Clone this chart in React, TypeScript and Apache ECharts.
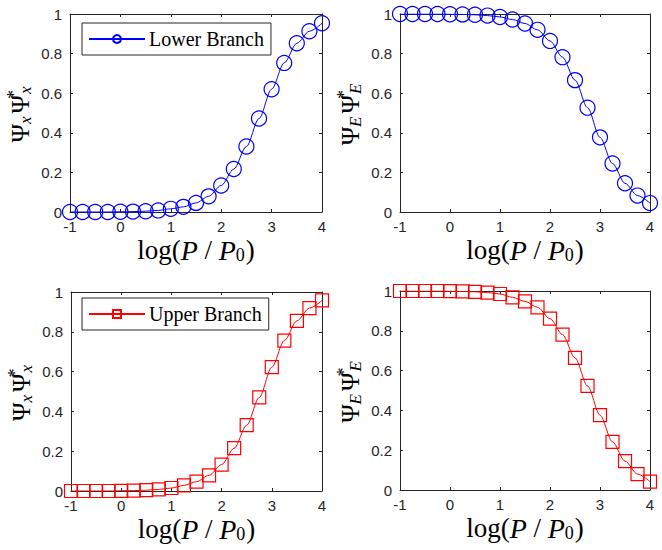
import React, { useEffect, useRef } from "react";
import * as echarts from "echarts";

const xVals = [-1, -0.75, -0.5, -0.25, 0, 0.25, 0.5, 0.75, 1, 1.25, 1.5, 1.75, 2, 2.25, 2.5, 2.75, 3, 3.25, 3.5, 3.75, 4];
const lowerPsiX = [0, 0, 0, 0, 0.001, 0.002, 0.004, 0.008, 0.016, 0.026, 0.046, 0.079, 0.134, 0.217, 0.331, 0.472, 0.62, 0.753, 0.852, 0.913, 0.953];
const lowerPsiE = [1, 1, 1, 1, 0.999, 0.998, 0.996, 0.992, 0.985, 0.972, 0.952, 0.92, 0.864, 0.782, 0.666, 0.527, 0.377, 0.245, 0.145, 0.083, 0.045];
const upperPsiX = [0, 0, 0, 0, 0.001, 0.002, 0.004, 0.008, 0.015, 0.028, 0.047, 0.079, 0.133, 0.215, 0.331, 0.47, 0.622, 0.756, 0.855, 0.919, 0.958];
const upperPsiE = [1, 1, 1, 1, 0.999, 0.998, 0.996, 0.992, 0.985, 0.968, 0.948, 0.918, 0.861, 0.781, 0.664, 0.523, 0.376, 0.242, 0.145, 0.08, 0.042];
const xTicks = [-1, 0, 1, 2, 3, 4];
const yTicks = [0, 0.2, 0.4, 0.6, 0.8, 1];
const legendLower = ["Lower Branch"];
const legendUpper = ["Upper Branch"];

const AXIS_COLOR = "#262626";

export default function App() {
  const ref = useRef<HTMLDivElement>(null);

  useEffect(() => {
    if (!ref.current) return;
    const chart = echarts.init(ref.current, null, { renderer: "svg" });

    const grids = [
      { left: 70, top: 14, width: 252, height: 198 },
      { left: 400, top: 14, width: 250, height: 198 },
      { left: 71, top: 292, width: 251, height: 199 },
      { left: 400, top: 291, width: 250, height: 199 },
    ];

    const xName = "{n|log(}{i|P}{n| / }{i|P}{sub|0}{n|)}";
    const xNameRich = {
      n: { fontFamily: "Liberation Serif", fontSize: 27, color: "#000" },
      i: { fontFamily: "Liberation Serif", fontSize: 28, fontStyle: "italic", color: "#000" },
      sub: { fontFamily: "Liberation Serif", fontSize: 18, color: "#000", verticalAlign: "bottom", lineHeight: 16, padding: [10, 1, 0, 0] },
    };
    const yNameRich = {
      p: { fontFamily: "Liberation Serif", fontSize: 25, color: "#000" },
      sub: { fontFamily: "Liberation Serif", fontSize: 17, fontStyle: "italic", color: "#000", padding: [11, 3, 0, 0] },
      sup: { fontFamily: "Liberation Serif", fontSize: 18, color: "#000", padding: [0, 0, 12, 0], width: 1 },
    };
    const yNames = [
      "{p|Ψ}{sub|x}{p|Ψ}{sup|*}{sub|x}",
      "{p|Ψ}{sub|E}{p|Ψ}{sup|*}{sub|E}",
      "{p|Ψ}{sub|x}{p|Ψ}{sup|*}{sub|x}",
      "{p|Ψ}{sub|E}{p|Ψ}{sup|*}{sub|E}",
    ];

    const xAxes: any[] = [];
    const yAxes: any[] = [];
    grids.forEach((_, gi) => {
      xAxes.push({
        type: "value",
        gridIndex: gi,
        min: xTicks[0],
        max: xTicks[xTicks.length - 1],
        interval: 1,
        position: "bottom",
        axisLine: { show: true, onZero: false, lineStyle: { color: AXIS_COLOR, width: 1 } },
        axisTick: { show: true, inside: true, length: 3, lineStyle: { color: AXIS_COLOR } },
        axisLabel: { color: AXIS_COLOR, fontFamily: "Liberation Sans", fontSize: 15, margin: 7 },
        splitLine: { show: false },
        name: xName,
        nameLocation: "middle",
        nameGap: 24,
        nameTextStyle: { rich: xNameRich },
      });
      xAxes.push({
        type: "value",
        gridIndex: gi,
        min: xTicks[0],
        max: xTicks[xTicks.length - 1],
        interval: 1,
        position: "top",
        axisLine: { show: true, onZero: false, lineStyle: { color: AXIS_COLOR, width: 1 } },
        axisTick: { show: true, inside: true, length: 3, lineStyle: { color: AXIS_COLOR } },
        axisLabel: { show: false },
        splitLine: { show: false },
      });
      yAxes.push({
        type: "value",
        gridIndex: gi,
        min: yTicks[0],
        max: yTicks[yTicks.length - 1],
        interval: 0.2,
        position: "left",
        axisLine: { show: true, onZero: false, lineStyle: { color: AXIS_COLOR, width: 1 } },
        axisTick: { show: true, inside: true, length: 3, lineStyle: { color: AXIS_COLOR } },
        axisLabel: { color: AXIS_COLOR, fontFamily: "Liberation Sans", fontSize: 15, margin: 8 },
        splitLine: { show: false },
        name: yNames[gi],
        nameLocation: "middle",
        nameGap: 35,
        nameRotate: 90,
        nameTextStyle: { rich: yNameRich },
      });
      yAxes.push({
        type: "value",
        gridIndex: gi,
        min: yTicks[0],
        max: yTicks[yTicks.length - 1],
        interval: 0.2,
        position: "right",
        axisLine: { show: true, onZero: false, lineStyle: { color: AXIS_COLOR, width: 1 } },
        axisTick: { show: true, inside: true, length: 3, lineStyle: { color: AXIS_COLOR } },
        axisLabel: { show: false },
        splitLine: { show: false },
      });
    });

    const mk = (name: string, vals: number[], gi: number, color: string, symbol: string, size: number) => ({
      type: "line",
      name,
      xAxisIndex: gi * 2,
      yAxisIndex: gi * 2,
      data: xVals.map((x, i) => [x, vals[i]]),
      smooth: 0.3,
      smoothMonotone: "x",
      symbol,
      symbolSize: size,
      showAllSymbol: true,
      lineStyle: { color, width: 1 },
      itemStyle: { color: "rgba(255,255,255,0)", borderColor: color, borderWidth: 1.2 },
      z: 3,
    });

    const legendCommon = {
      orient: "horizontal",
      backgroundColor: "#fff",
      borderColor: AXIS_COLOR,
      borderWidth: 1,
      padding: [6, 7, 6, 6],
      itemWidth: 56,
      itemHeight: 10,
      itemGap: 0,
      selectedMode: false,
      textStyle: { fontFamily: "Liberation Serif", fontSize: 20, color: "#000", padding: [0, 0, 0, -1] },
    };

    chart.setOption({
      animation: false,
      backgroundColor: "#fff",
      grid: grids.map((g) => ({ ...g, containLabel: false })),
      xAxis: xAxes,
      yAxis: yAxes,
      legend: [
        { ...legendCommon, data: legendLower, left: 82, top: 23 },
        { ...legendCommon, data: legendUpper, left: 82, top: 298 },
      ],
      series: [
        mk("Lower Branch", lowerPsiX, 0, "#0000ff", "circle", 15),
        mk("Lower Branch E", lowerPsiE, 1, "#0000ff", "circle", 15),
        mk("Upper Branch", upperPsiX, 2, "#ff0000", "rect", 13),
        mk("Upper Branch E", upperPsiE, 3, "#ff0000", "rect", 13),
      ],
    });

    return () => chart.dispose();
  }, []);

  return (
    <div
      ref={ref}
      style={{ position: "fixed", left: 0, top: 0, width: 662, height: 550, background: "#fff" }}
    />
  );
}
